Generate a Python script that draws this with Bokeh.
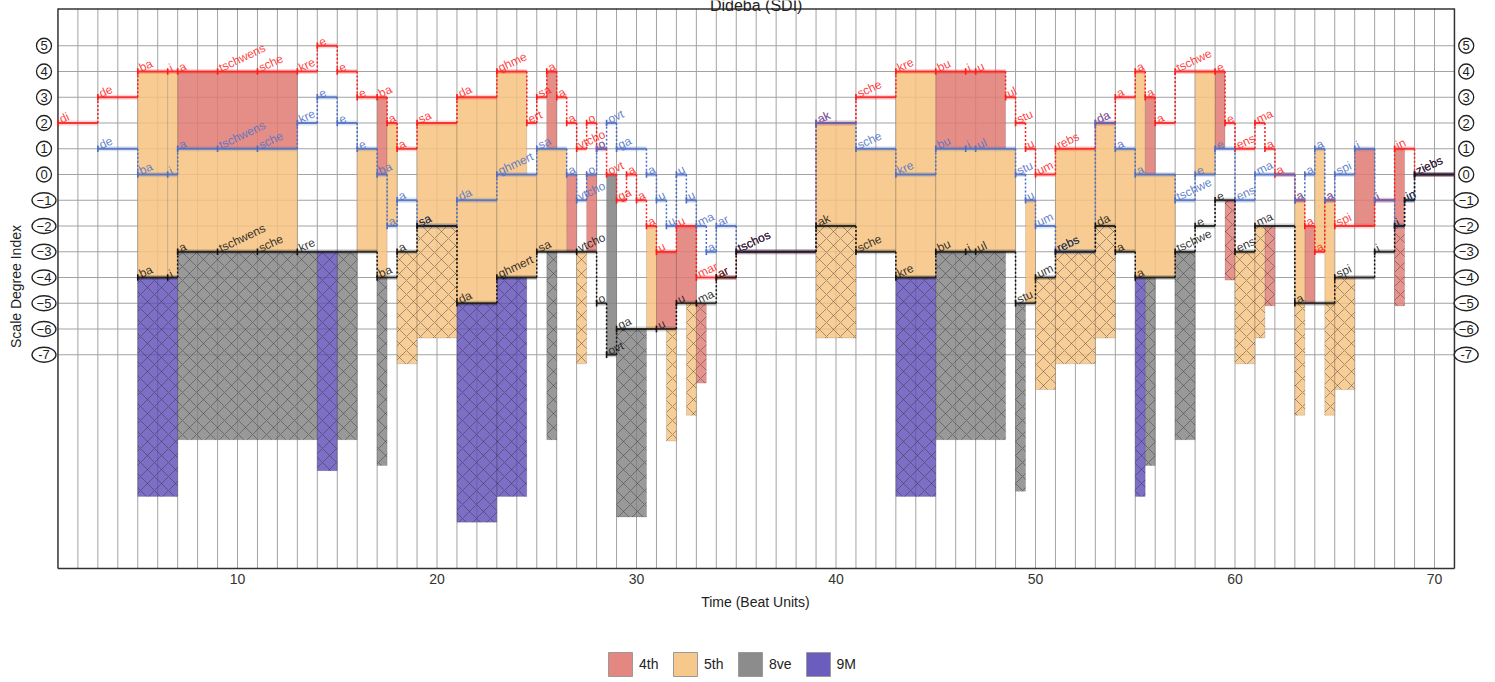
from bisect import bisect_right
from bokeh.plotting import figure
from bokeh.models import Range1d, Legend, LegendItem
from bokeh.embed import file_html
from bokeh.resources import INLINE
from bokeh.core.properties import value

# ---------------- data ----------------
END_TIME = 71

top_start = [1, 3, 5, 6.5, 7, 9, 11, 13, 14, 15, 16, 17, 17.5, 18, 19, 21, 23, 24.5, 25, 25.5,
             26, 26.5, 27, 27.5, 28, 28.5, 29, 29.5, 30, 30.5, 31, 32, 33, 34, 35, 39, 41, 43, 45, 46.5,
             47, 48.5, 49, 49.5, 50, 51, 53, 54, 55, 55.5, 56, 57, 59, 59.5, 60, 61, 61.5, 62, 63, 63.5,
             64, 64.5, 65, 67, 68, 69]
top_pitch = [2, 3, 4, 4, 4, 4, 4, 4, 5, 4, 3, 3, 2, 1, 2, 3, 4, 2, 3, 4,
             3, 2, 1, 2, 1, 0, -1, 0, -1, -2, -3, -2, -4, -4, -3, 2, 3, 4, 4, 4,
             4, 3, 2, 1, 0, 1, 2, 3, 4, 3, 2, 4, 4, 2, 1, 2, 1, 0, -1, -2,
             -3, -1, -2, -1, 1, 0]
top_syl = ["di", "de", "ba", "i", "a", "tschwens", "sche", "kre", "e", "e", "e", "ba", "a", "a", "sa",
           "da", "ghme", "ert", "sa", "a", "a", "a", "vtcho", "o", "o", "ovt", "ga", "a", "a", "a",
           "u", "u", "mar", "ar", "tschos", "ak", "sche", "kre", "bu", "i", "u", "ul", "stu", "u", "um",
           "rebs", "da", "a", "a", "a", "a", "tschwe", "e", "e", "ens", "ma", "a", "a", "a", "a",
           "a", "a", "spi", "i", "in", "ziebs"]

mid_start = [3, 5, 6.5, 7, 9, 11, 13, 14, 15, 16, 17, 17.5, 18, 19, 21, 23, 25, 26.5, 27, 27.5,
             28, 28.5, 29, 30.5, 31, 31.5, 32, 32.5, 33, 33.5, 34, 35, 39, 41, 43, 45, 46.5, 47, 49, 49.5,
             50, 51, 53, 54, 55, 57, 58, 59, 60, 61, 63, 63.5, 64, 64.5, 65, 66, 67, 68, 68.5, 69]
mid_pitch = [1, 0, 0, 1, 1, 1, 2, 3, 2, 1, 0, -2, -1, -2, -1, 0, 1, 0, -1, 0,
             1, 2, 1, 0, -1, -2, 0, -1, -2, -3, -2, -3, 2, 1, 0, 1, 1, 1, 0, -1,
             -2, -3, 2, 1, 0, -1, 0, 1, -1, 0, -1, 0, 1, -1, 0, 1, -1, -2, -1, 0]
mid_syl = ["de", "ba", "i", "a", "tschwens", "sche", "kre", "e", "e", "e", "ba", "a", "a", "sa", "da",
           "ghmert", "sa", "a", "vtcho", "o", "o", "ovt", "ga", "a", "u", "u", "u", "u", "ma", "a",
           "ar", "tschos", "ak", "sche", "kre", "bu", "i", "ul", "stu", "u", "um", "rebs", "da", "a", "a",
           "tschwe", "e", "e", "ens", "ma", "a", "a", "a", "a", "spi", "i", "i", "i", "in", "ziebs"]

bass_start = [5, 6.5, 7, 9, 11, 13, 17, 18, 19, 21, 23, 25, 27, 28, 28.5, 29, 31, 32, 33, 34,
              35, 39, 41, 43, 45, 46.5, 47, 49, 50, 51, 53, 54, 55, 57, 58, 59, 60, 61, 63, 65,
              67, 68, 68.5, 69]
bass_pitch = [-4, -4, -3, -3, -3, -3, -4, -3, -2, -5, -4, -3, -3, -5, -7, -6, -6, -5, -5, -4,
              -3, -2, -3, -4, -3, -3, -3, -5, -4, -3, -2, -3, -4, -3, -2, -1, -3, -2, -5, -4,
              -3, -2, -1, 0]
bass_syl = ["ba", "i", "a", "tschwens", "sche", "kre", "ba", "a", "sa", "da", "ghmert", "sa", "vtcho",
            "o", "ovt", "ga", "u", "u", "ma", "ar", "tschos", "ak", "sche", "kre", "bu", "i", "ul", "stu",
            "um", "rebs", "da", "a", "a", "tschwe", "e", "e", "ens", "ma", "a", "spi", "i", "i", "in",
            "ziebs"]

interval_names = ["4th", "5th", "8ve", "9M"]
interval_steps = [3, 4, 7, 8]
hatch_depth = [3.1, 4.35, 7.3, 8.5]

y_ticks = [5, 4, 3, 2, 1, 0, -1, -2, -3, -4, -5, -6, -7]
y_tick_labels = ["5", "4", "3", "2", "1", "0", "\u22121", "\u22122", "\u22123", "\u22124", "\u22125", "\u22126", "-7"]
x_ticks = [10, 20, 30, 40, 50, 60, 70]

# ---------------- style ----------------
FONT = "Liberation Sans"
COL = {"4th": "#e07a72", "5th": "#f6c27e", "8ve": "#808080", "9M": "#5b4bb7"}
VOICE_COL = {"top": "#ff1a1a", "mid": "#4a6dc4", "bass": "#111111"}
LABEL_COL = {"top": "#ff2b2b", "mid": "#5274c8", "bass": "#1a1a1a"}
X0, X1 = 1, END_TIME
Y_BOT, Y_TOP = -15.30, 6.447
W, H = 1479, 680

p = figure(width=W, height=H,
           x_range=Range1d(-1.880, (W - 37.5) / 19.95),
           y_range=Range1d((174 - H) / 25.75, 174 / 25.75),
           x_axis_type=None, y_axis_type=None, toolbar_location=None, output_backend="svg",
           min_border=0, min_border_left=0, min_border_right=0, min_border_top=0, min_border_bottom=0)
p.outline_line_color = None
p.background_fill_color = "white"
p.border_fill_color = "white"

# grid
vx = list(range(X0 + 1, X1))
p.segment(x0=vx, y0=[Y_BOT] * len(vx), x1=vx, y1=[Y_TOP] * len(vx), line_color="#a3a3a3", line_width=1)
p.segment(x0=[X0] * len(y_ticks), y0=y_ticks, x1=[X1] * len(y_ticks), y1=y_ticks,
          line_color="#a3a3a3", line_width=1)

# ---------------- interval fills (derived from voices) ----------------
voices = [(top_start, top_pitch), (mid_start, mid_pitch), (bass_start, bass_pitch)]
bounds = sorted(set(top_start + mid_start + bass_start + [END_TIME]))
step_to_name = dict(zip(interval_steps, interval_names))
depth_of = dict(zip(interval_names, hatch_depth))
solid = {n: [] for n in interval_names}
hatched = {n: [] for n in interval_names}


def add_rect(store, l, r, t, b):
    if store and store[-1][1] == l and store[-1][2] == t and store[-1][3] == b:
        store[-1][1] = r
    else:
        store.append([l, r, t, b])


for a, b in zip(bounds[:-1], bounds[1:]):
    m = (a + b) / 2
    ps = []
    for st, pt in voices:
        if m >= st[0]:
            ps.append(pt[bisect_right(st, m) - 1])
    u = sorted(set(ps), reverse=True)
    for hi, lo in zip(u[:-1], u[1:]):
        n = step_to_name.get(hi - lo)
        if n:
            add_rect(solid[n], a, b, hi, lo)
    if len(u) > 1:
        n = step_to_name.get(u[0] - u[-1])
        if n:
            add_rect(hatched[n], a, b, u[-1], u[-1] - depth_of[n])

for n in interval_names:
    rs = solid[n]
    p.quad(left=[r[0] for r in rs], right=[r[1] for r in rs],
           top=[r[2] for r in rs], bottom=[r[3] for r in rs],
           fill_color=COL[n], fill_alpha=0.85, line_color="#000000",
           line_alpha=0.12, line_width=1)
for n in interval_names:
    rs = hatched[n]
    p.quad(left=[r[0] for r in rs], right=[r[1] for r in rs],
           top=[r[2] for r in rs], bottom=[r[3] for r in rs],
           fill_color=COL[n], fill_alpha=0.8, line_color="#000000", line_alpha=0.12,
           hatch_pattern="diagonal_cross", hatch_color="#222222", hatch_alpha=0.38,
           hatch_scale=14, hatch_weight=1)

# legend proxies (no visible geometry)
nan = float("nan")
legend_renderers = {}
for n in interval_names:
    legend_renderers[n] = p.quad(left=[nan], right=[nan], top=[nan], bottom=[nan],
                                 fill_color=COL[n], fill_alpha=0.9, line_color="#9a9a9a", line_width=1)

# frame
p.segment(x0=[X0, X1, X0, X0], y0=[Y_BOT, Y_BOT, Y_BOT, Y_TOP - 0.02], x1=[X0, X1, X1, X1],
          y1=[Y_TOP, Y_TOP, Y_BOT, Y_TOP - 0.02], line_color="#333333", line_width=1.5)

# ---------------- voices ----------------
voice_defs = [("top", top_start, top_pitch, top_syl),
              ("mid", mid_start, mid_pitch, mid_syl),
              ("bass", bass_start, bass_pitch, bass_syl)]
for key, st, pt, sy in voice_defs:
    ends = st[1:] + [END_TIME]
    c = VOICE_COL[key]
    p.segment(x0=st, y0=pt, x1=ends, y1=pt, line_color=c, line_width=5, line_alpha=0.18)
    p.segment(x0=st, y0=pt, x1=ends, y1=pt, line_color=c, line_width=1.8, line_alpha=0.8)
    p.segment(x0=st, y0=[v - 0.13 for v in pt], x1=st, y1=[v + 0.13 for v in pt], line_color=c, line_width=1.6)
    cx, cy0, cy1 = [], [], []
    for i in range(1, len(st)):
        if pt[i] != pt[i - 1]:
            cx.append(st[i]); cy0.append(pt[i - 1]); cy1.append(pt[i])
    p.segment(x0=cx, y0=cy0, x1=cx, y1=cy1, line_color=c, line_width=1.5, line_dash="2 2")

for key, st, pt, sy in voice_defs:
    p.text(x=st, y=pt, text=sy, angle=0.44, x_offset=2, y_offset=-3, text_align="left",
           text_baseline="alphabetic", text_font=value(FONT), text_font_size="12px",
           text_color=LABEL_COL[key], text_alpha=0.9)

# ---------------- axes (drawn through the data scales) ----------------
for cxp in (0.30, 71.59):
    widths = [15 if not lab.startswith(("\u2212", "-")) else 24 for lab in y_tick_labels]
    p.ellipse(x=[cxp] * len(y_ticks), y=y_ticks, width=widths, height=[15] * len(y_ticks),
              width_units="screen", height_units="screen", fill_color="white",
              line_color="#222222", line_width=1.3)
    p.text(x=[cxp] * len(y_ticks), y=y_ticks, text=y_tick_labels, text_align="center",
           text_baseline="middle", text_font=value(FONT), text_font_size="13px", text_color="#222222")

p.text(x=x_ticks, y=[-15.71] * len(x_ticks), text=[str(t) for t in x_ticks], text_align="center",
       text_baseline="middle", text_font=value(FONT), text_font_size="14px", text_color="#333333")
p.text(x=[35.96], y=[-16.60], text=["Time (Beat Units)"], text_align="center", text_baseline="middle",
       text_font=value(FONT), text_font_size="14px", text_color="#222222")
p.text(x=[-1.10], y=[-4.35], text=["Scale Degree Index"], angle=1.5708, text_align="center",
       text_baseline="middle", text_font=value(FONT), text_font_size="14px", text_color="#222222")
p.text(x=[36.0], y=[6.56], text=["Dideba (SDI)"], text_align="center", text_baseline="alphabetic",
       text_font=value(FONT), text_font_size="16px", text_color="#222222")

legend = Legend(items=[LegendItem(label=n, renderers=[legend_renderers[n]]) for n in interval_names],
                location=(605, 1), orientation="horizontal", glyph_width=30, glyph_height=30,
                label_standoff=4, spacing=11, padding=0, margin=0, border_line_alpha=0,
                background_fill_alpha=0, label_text_font=FONT, label_text_font_size="14px",
                label_text_color="#222222")
p.add_layout(legend)

open("out.html", "w").write(file_html(p, INLINE))
